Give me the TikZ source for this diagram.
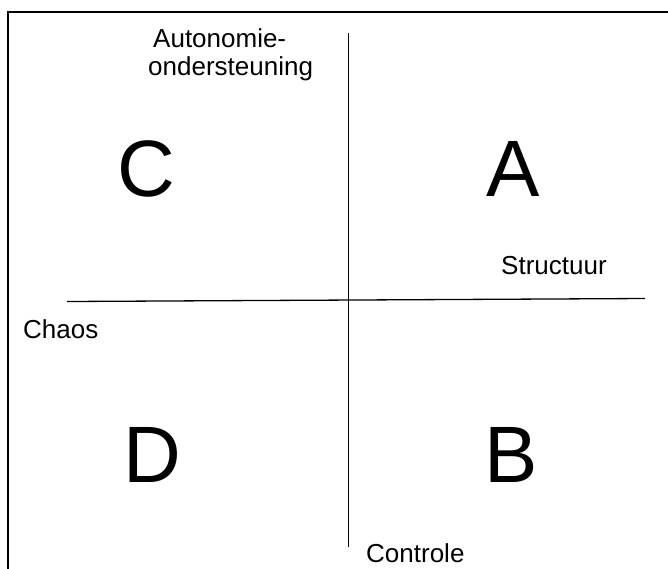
\documentclass[tikz,border=0pt]{standalone}
\usepackage{fontspec}
\setmainfont{Liberation Sans}
\begin{document}
\begin{tikzpicture}[x=1pt,y=-1pt,
  frame/.style={line width=2pt,line cap=rect},
  axis/.style={line width=1.3pt},
  label/.style={inner sep=0pt,anchor=base west,font=\fontsize{26}{30}\selectfont},
  quadrant/.style={inner sep=0pt,anchor=base,font=\fontsize{80}{80}\selectfont}]
  \useasboundingbox (0,0) rectangle (668,568);
  \fill[white] (0,0) rectangle (668,568);

  % outer frame (open at right and bottom)
  \draw[frame] (8,570) -- (8,11.5) -- (670,11.5);

  % axes
  \coordinate (hl) at (67,301.5);
  \coordinate (hr) at (645,298.5);
  \coordinate (vt) at (348.5,33);
  \coordinate (vb) at (348.5,547);
  \draw[axis] (hl) -- (hr);
  \draw[axis] (vt) -- (vb);

  % axis labels
  \node[label] (auto1) at (153,47) {Autonomie-};
  \node[label] (auto2) at (148,75) {ondersteuning};
  \node[label] (struct) at (501,274) {Structuur};
  \node[label] (chaos) at (23,338) {Chaos};
  \node[label] (contr) at (366,562) {Controle};

  % quadrant letters
  \node[quadrant] (qC) at (146.5,196) {C};
  \node[quadrant] (qA) at (513.5,196) {A};
  \node[quadrant] (qD) at (152,482) {D};
  \node[quadrant] (qB) at (511,482) {B};
\end{tikzpicture}
\end{document}
